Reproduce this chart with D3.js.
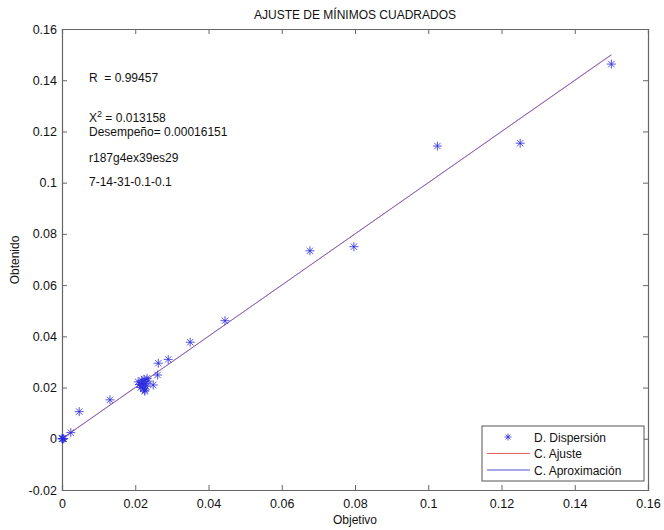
<!DOCTYPE html>
<html lang="es">
<head>
<meta charset="UTF-8">
<title>Ajuste de minimos cuadrados</title>
<script src="https://d3js.org/d3.v7.min.js"></script>
<style>
  body { margin: 0; background: #fff; }
  text { font-family: "Liberation Sans", Arial, sans-serif; fill: #111; white-space: pre; }
</style>
</head>
<body>
<script>
// objetivo (x) / obtenido (y)
var objetivo = [0, 0.0001, 0.0002, 0.0003, 0.0005, 0.0024, 0.0047, 0.0131,
  0.0208, 0.0212, 0.0215, 0.0218, 0.0220, 0.0222, 0.0224, 0.0226, 0.0228, 0.0230, 0.0232, 0.0235, 0.0226, 0.0219,
  0.0249, 0.0261, 0.0263, 0.0290, 0.0350, 0.0445, 0.0677, 0.0797, 0.1025, 0.1251, 0.1500];
var obtenido = [0, 0.0001, 0, 0.0001, 0, 0.0024, 0.0106, 0.0152,
  0.0222, 0.0212, 0.0200, 0.0228, 0.0210, 0.0195, 0.0232, 0.0190, 0.0215, 0.0205, 0.0236, 0.0225, 0.0186, 0.0218,
  0.0210, 0.0249, 0.0295, 0.0310, 0.0377, 0.0461, 0.0734, 0.0750, 0.1143, 0.1154, 0.1463];

// fitted line and ideal line (slope, intercept)
var ajuste = [0.9985, 0.0001];
var aproximacion = [1.0, 0.0];

var xTicks = [0, 0.02, 0.04, 0.06, 0.08, 0.1, 0.12, 0.14, 0.16];
var yTicks = [-0.02, 0, 0.02, 0.04, 0.06, 0.08, 0.1, 0.12, 0.14, 0.16];

var notas = ["R  = 0.99457", "X2 = 0.013158", "Desempeño= 0.00016151", "r187g4ex39es29", "7-14-31-0.1-0.1"];
var leyenda = ["D. Dispersión", "C. Ajuste", "C. Aproximación"];

var width = 664, height = 530;
var mLeft = 62, mRight = 648, mTop = 29, mBottom = 490;

var svg = d3.select("body").append("svg")
  .attr("width", width).attr("height", height);

var x = d3.scaleLinear().domain([0, 0.16]).range([mLeft, mRight]);
var y = d3.scaleLinear().domain([-0.02, 0.16]).range([mBottom, mTop]);

function fmt(d) { return String(+d.toFixed(2)); }

// axes, ticks pointing inward like matlab
svg.append("g").attr("transform", "translate(0," + mBottom + ")")
  .call(d3.axisBottom(x).tickValues(xTicks).tickSize(-5).tickPadding(9).tickFormat(fmt));
svg.append("g").attr("transform", "translate(0," + mTop + ")")
  .call(d3.axisTop(x).tickValues(xTicks).tickSize(-5).tickFormat(""));
svg.append("g").attr("transform", "translate(" + mLeft + ",0)")
  .call(d3.axisLeft(y).tickValues(yTicks).tickSize(-5).tickPadding(5).tickFormat(fmt));
svg.append("g").attr("transform", "translate(" + mRight + ",0)")
  .call(d3.axisRight(y).tickValues(yTicks).tickSize(-5).tickFormat(""));

svg.selectAll(".domain").attr("stroke", "#666").attr("stroke-width", 1.2);
svg.selectAll(".tick line").attr("stroke", "#666");
svg.selectAll(".tick text").style("font-size", "12.5px").style("font-family", "Liberation Sans, Arial, sans-serif").attr("fill", "#111");

// lines
var x0 = d3.min(objetivo), x1 = d3.max(objetivo);
function drawLine(coef, color) {
  svg.append("line")
    .attr("x1", x(x0)).attr("y1", y(coef[0] * x0 + coef[1]))
    .attr("x2", x(x1)).attr("y2", y(coef[0] * x1 + coef[1]))
    .attr("stroke", color).attr("stroke-width", 1).attr("opacity", 0.75);
}
drawLine(ajuste, "#e85a5a");
drawLine(aproximacion, "#5a5ad8");

// star markers
function star(g, s) {
  g.append("path")
    .attr("d", "M" + (-s) + ",0H" + s + "M0," + (-s) + "V" + s +
      "M" + (-s * 0.7) + "," + (-s * 0.7) + "L" + (s * 0.7) + "," + (s * 0.7) +
      "M" + (-s * 0.7) + "," + (s * 0.7) + "L" + (s * 0.7) + "," + (-s * 0.7))
    .attr("stroke", "#2a2ae0").attr("stroke-width", 0.8).attr("fill", "none");
}
var pts = svg.append("g").selectAll("g")
  .data(objetivo.map(function (d, i) { return [d, obtenido[i]]; }))
  .enter().append("g")
  .attr("transform", function (d) { return "translate(" + x(d[0]) + "," + y(d[1]) + ")"; });
pts.each(function () { star(d3.select(this), 4.5); });

// title and labels
svg.append("text").attr("x", 355).attr("y", 19).attr("text-anchor", "middle")
  .style("font-size", "12px").text("AJUSTE DE MÍNIMOS CUADRADOS");
svg.append("text").attr("x", 355).attr("y", 524).attr("text-anchor", "middle")
  .style("font-size", "12px").text("Objetivo");
svg.append("text").attr("transform", "translate(19,260) rotate(-90)").attr("text-anchor", "middle")
  .style("font-size", "12px").text("Obtenido");

// notes
var notaY = [82, 122, 136, 162, 186];
notas.forEach(function (t, i) {
  var tx = svg.append("text").attr("x", 89).attr("y", notaY[i]).style("font-size", "12px");
  if (t.indexOf("X2") === 0) {
    tx.text("X");
    tx.append("tspan").attr("dy", -5).style("font-size", "9px").text("2");
    tx.append("tspan").attr("dy", 5).text(t.slice(2));
  } else {
    tx.text(t);
  }
});

// legend
var lg = svg.append("g");
lg.append("rect").attr("x", 482).attr("y", 426).attr("width", 162).attr("height", 55)
  .attr("fill", "#fff").attr("stroke", "#555").attr("stroke-width", 1);
leyenda.forEach(function (t, i) {
  var ly = 437 + i * 16.5;
  if (i === 0) {
    star(lg.append("g").attr("transform", "translate(508," + ly + ")"), 3.5);
  } else {
    lg.append("line").attr("x1", 487).attr("x2", 530).attr("y1", ly).attr("y2", ly)
      .attr("stroke", i === 1 ? "#f06060" : "#5050c8").attr("stroke-width", 1);
  }
  lg.append("text").attr("x", 534).attr("y", ly + 4.5).style("font-size", "12px").text(t);
});
</script>
</body>
</html>
